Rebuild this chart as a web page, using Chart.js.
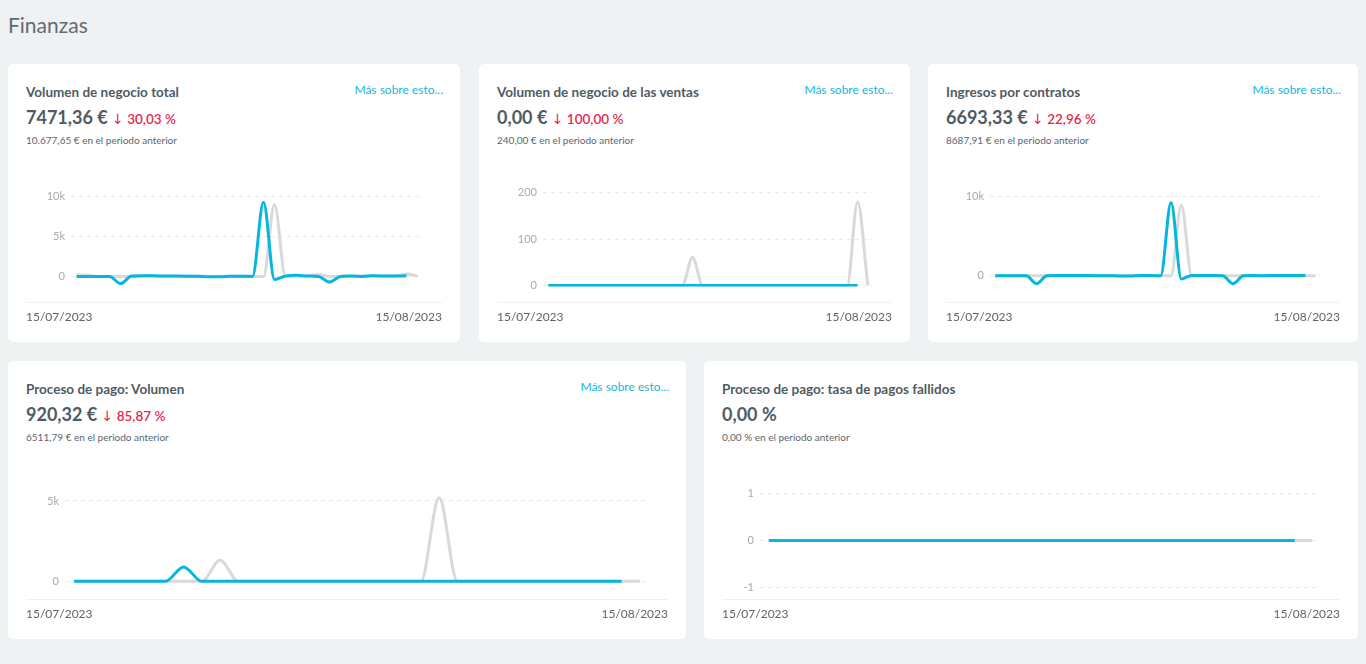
<!DOCTYPE html>
<html lang="es">
<head>
<meta charset="utf-8">
<title>Finanzas</title>
<script src="https://cdn.jsdelivr.net/npm/chart.js@4.4.0/dist/chart.umd.min.js"></script>
<style>
  html, body { margin: 0; padding: 0; }
  body {
    width: 1366px; height: 664px; overflow: hidden;
    background: #eff2f3;
    font-family: Lato, "Noto Sans", sans-serif;
    color: #4f5b63;
    position: relative;
  }
  h1 {
    position: absolute; left: 8px; top: 11px; margin: 0;
    font-size: 21px; line-height: 28px; font-weight: 400; color: #5f6b72;
  }
  .card {
    position: absolute; background: #fff; border-radius: 5px; height: 278px;
  }
  .title {
    position: absolute; left: 18px; top: 19px;
    font-size: 13.5px; line-height: 18px; font-weight: 700; color: #4f5b63;
  }
  .more {
    position: absolute; right: 17px; top: 18px;
    font-size: 12px; line-height: 16px; color: #17b5dc; text-decoration: none;
  }
  .value {
    position: absolute; left: 18px; top: 41px;
    font-size: 18px; line-height: 24px; font-weight: 700; color: #4f5b63; white-space: nowrap;
  }
  .delta { font-size: 13.5px; font-weight: 600; color: #e3294f; }
  .delta .arrow { font-family: "DejaVu Sans", sans-serif; font-size: 14px; font-weight: 400; }
  .prev {
    position: absolute; left: 18px; top: 69px;
    font-size: 10px; line-height: 14px; color: #5b666d; white-space: nowrap;
  }
  .chart { position: absolute; left: 18px; right: 18px; top: 120px; height: 119px; }
  .sep { position: absolute; left: 18px; right: 18px; top: 238px; height: 1px; background: #eef0f2; }
  .dates {
    position: absolute; left: 18px; right: 18px; top: 245px;
    display: flex; justify-content: space-between;
    font-size: 12px; line-height: 16px; color: #5b666d;
  }
</style>
</head>
<body>
<h1>Finanzas</h1>

<div class="card" style="left:8px;top:64px;width:452px">
  <div class="title">Volumen de negocio total</div>
  <a class="more">Más sobre esto...</a>
  <div class="value">7471,36 € <span class="delta"><span class="arrow">↓</span> 30,03 %</span></div>
  <div class="prev">10.677,65 € en el periodo anterior</div>
  <div class="chart"><canvas id="c1"></canvas></div>
  <div class="sep"></div>
  <div class="dates"><span class="d0"></span><span class="d1"></span></div>
</div>

<div class="card" style="left:479px;top:64px;width:431px">
  <div class="title">Volumen de negocio de las ventas</div>
  <a class="more">Más sobre esto...</a>
  <div class="value">0,00 € <span class="delta"><span class="arrow">↓</span> 100,00 %</span></div>
  <div class="prev">240,00 € en el periodo anterior</div>
  <div class="chart" style="top:116px"><canvas id="c2"></canvas></div>
  <div class="sep"></div>
  <div class="dates"><span class="d0"></span><span class="d1"></span></div>
</div>

<div class="card" style="left:928px;top:64px;width:430px">
  <div class="title">Ingresos por contratos</div>
  <a class="more">Más sobre esto...</a>
  <div class="value">6693,33 € <span class="delta"><span class="arrow">↓</span> 22,96 %</span></div>
  <div class="prev">8687,91 € en el periodo anterior</div>
  <div class="chart"><canvas id="c3"></canvas></div>
  <div class="sep"></div>
  <div class="dates"><span class="d0"></span><span class="d1"></span></div>
</div>

<div class="card" style="left:8px;top:361px;width:678px">
  <div class="title">Proceso de pago: Volumen</div>
  <a class="more">Más sobre esto...</a>
  <div class="value">920,32 € <span class="delta"><span class="arrow">↓</span> 85,87 %</span></div>
  <div class="prev">6511,79 € en el periodo anterior</div>
  <div class="chart"><canvas id="c4"></canvas></div>
  <div class="sep"></div>
  <div class="dates"><span class="d0"></span><span class="d1"></span></div>
</div>

<div class="card" style="left:704px;top:361px;width:654px">
  <div class="title">Proceso de pago: tasa de pagos fallidos</div>
  <div class="value">0,00 %</div>
  <div class="prev">0,00 % en el periodo anterior</div>
  <div class="chart"><canvas id="c5"></canvas></div>
  <div class="sep"></div>
  <div class="dates"><span class="d0"></span><span class="d1"></span></div>
</div>

<script>
// dias del periodo (15/07 - 15/08)
const days = [
  "15/07/2023", "16/07/2023", "17/07/2023", "18/07/2023", "19/07/2023", "20/07/2023", "21/07/2023", "22/07/2023",
  "23/07/2023", "24/07/2023", "25/07/2023", "26/07/2023", "27/07/2023", "28/07/2023", "29/07/2023", "30/07/2023",
  "31/07/2023", "01/08/2023", "02/08/2023", "03/08/2023", "04/08/2023", "05/08/2023", "06/08/2023", "07/08/2023",
  "08/08/2023", "09/08/2023", "10/08/2023", "11/08/2023", "12/08/2023", "13/08/2023", "14/08/2023", "15/08/2023"
];

// Volumen de negocio total
const totalActual = [0, 0, 0, 0, -900, 40, 100, 80, 50, 40, 30, 20, -30, -40, 20, 30,
  0, 9300, -400, 50, 150, 50, 0, -700, 0, 50, 0, 80, 50, 50, 80];
const totalAnterior = [200, 150, 0, 0, 0, 0, 50, 50, 30, 30, 20, 20, 0, 0, 20, 20,
  0, 0, 9000, 0, 50, 50, 250, 0, 0, 50, 50, 80, 50, 50, 300, 50];
const totalTicks = [0, 5000, 10000];

// Volumen de negocio de las ventas
const ventasActual = [0, 0, 0, 0, 0, 0, 0, 0, 0, 0, 0, 0, 0, 0, 0, 0,
  0, 0, 0, 0, 0, 0, 0, 0, 0, 0, 0, 0, 0, 0, 0];
const ventasAnterior = [0, 0, 0, 0, 0, 0, 0, 0, 0, 0, 0, 0, 0, 0, 60, 0,
  0, 0, 0, 0, 0, 0, 0, 0, 0, 0, 0, 0, 0, 0, 180, 0];
const ventasTicks = [0, 100, 200];

// Ingresos por contratos
const contratosActual = [0, 0, 0, 0, -1000, 0, 40, 30, 20, 20, 10, 0, -30, -30, 20, 20,
  0, 9240, -400, 40, 30, 30, 0, -1000, 0, 30, 0, 40, 30, 30, 20];
const contratosAnterior = [0, 0, 0, 0, 0, 0, 0, 0, 0, 0, 0, 0, 0, 0, 0, 0,
  0, 0, 8900, 0, 0, 0, 0, 0, 0, 0, 0, 0, 0, 0, 0, 0];
const contratosTicks = [0, 10000];

// Proceso de pago: volumen
const pagoActual = [0, 0, 0, 0, 0, 0, 900, 0, 0, 0, 0, 0, 0, 0, 0, 0,
  0, 0, 0, 0, 0, 0, 0, 0, 0, 0, 0, 0, 0, 0, 0];
const pagoAnterior = [0, 0, 0, 0, 0, 0, 0, 0, 1310, 0, 0, 0, 0, 0, 0, 0,
  0, 0, 0, 0, 5200, 0, 0, 0, 0, 0, 0, 0, 0, 0, 0, 0];
const pagoTicks = [0, 5000];

// Proceso de pago: tasa de pagos fallidos
const fallidosActual = [0, 0, 0, 0, 0, 0, 0, 0, 0, 0, 0, 0, 0, 0, 0, 0,
  0, 0, 0, 0, 0, 0, 0, 0, 0, 0, 0, 0, 0, 0, 0];
const fallidosAnterior = [0, 0, 0, 0, 0, 0, 0, 0, 0, 0, 0, 0, 0, 0, 0, 0,
  0, 0, 0, 0, 0, 0, 0, 0, 0, 0, 0, 0, 0, 0, 0, 0];
const fallidosTicks = [-1, 0, 1];

const BLUE = "#05b6df";
const GREY = "#d9d9d9";

document.querySelectorAll(".d0").forEach(el => el.textContent = days[0]);
document.querySelectorAll(".d1").forEach(el => el.textContent = days[days.length - 1]);

function fmt(v) {
  if (Math.abs(v) >= 1000) return (v / 1000) + "k";
  return String(v);
}

function makeChart(id, actual, anterior, tickValues, yMin, yMax, axisWidth) {
  return new Chart(document.getElementById(id), {
    type: "line",
    data: {
      labels: days,
      datasets: [
        { data: actual, borderColor: BLUE, borderWidth: 3, cubicInterpolationMode: "monotone", pointRadius: 0, fill: false },
        { data: anterior, borderColor: GREY, borderWidth: 3, cubicInterpolationMode: "monotone", pointRadius: 0, fill: false }
      ]
    },
    options: {
      responsive: true,
      maintainAspectRatio: false,
      animation: false,
      layout: { padding: { top: 10, bottom: 10, left: 0, right: 19 } },
      plugins: { legend: { display: false }, tooltip: { enabled: false } },
      scales: {
        x: { type: "category", offset: true, display: false },
        y: {
          min: yMin,
          max: yMax,
          border: { display: false, dash: [4, 4] },
          grid: { color: "#e7e9eb", drawTicks: false, lineWidth: 1 },
          ticks: {
            padding: 6,
            color: "#a4aaae",
            font: { family: "Lato", size: 11 },
            callback: v => fmt(v)
          },
          afterBuildTicks: scale => {
            scale.ticks = tickValues.map(v => ({ value: v }));
          },
          afterFit: scale => { scale.width = axisWidth; }
        }
      }
    }
  });
}

makeChart("c1", totalActual, totalAnterior, totalTicks, -1750, 10000, 45);
makeChart("c2", ventasActual, ventasAnterior, ventasTicks, -2, 200, 46);
makeChart("c3", contratosActual, contratosAnterior, contratosTicks, -1850, 10000, 44);
makeChart("c4", pagoActual, pagoAnterior, pagoTicks, -375, 5460, 39);
makeChart("c5", fallidosActual, fallidosAnterior, fallidosTicks, -1, 1, 38);
</script>
</body>
</html>
